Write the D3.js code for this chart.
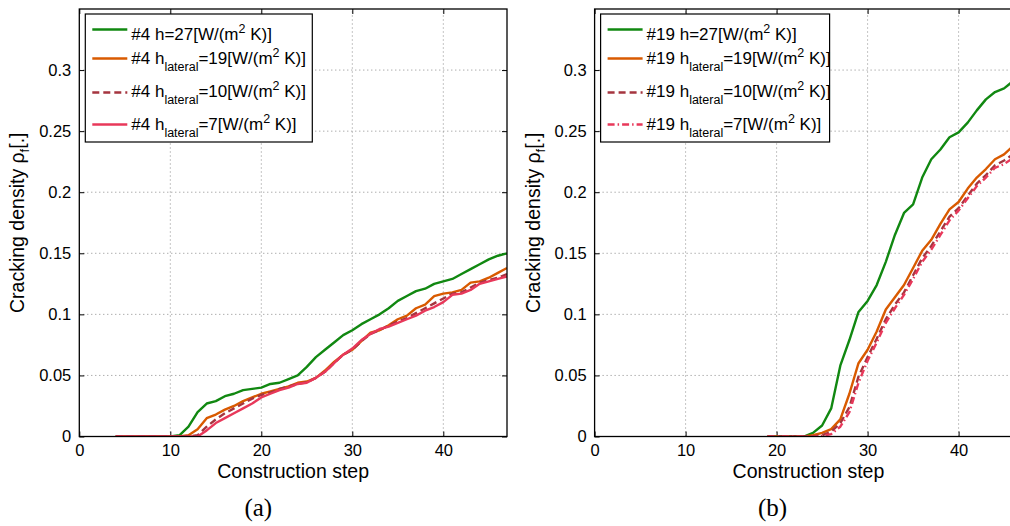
<!DOCTYPE html>
<html><head><meta charset="utf-8">
<script src="https://cdn.jsdelivr.net/npm/d3@7"></script>
<style>body{margin:0;background:#fff}svg{display:block}</style>
</head><body>
<script>
// ---------- data ----------
const stepsA = [4,5,6,7,8,9,10,11,12,13,14,15,16,17,18,19,20,21,22,23,24,25,26,27,28,29,30,31,32,33,34,35,36,37,38,39,40,41,42,43,44,45,46,47];
const a_h27 = [0,0,0,0,0,0,0,0.001,0.008,0.020,0.027,0.029,0.033,0.035,0.038,0.039,0.040,0.043,0.044,0.047,0.050,0.057,0.065,0.071,0.077,0.083,0.087,0.092,0.096,0.100,0.105,0.111,0.115,0.119,0.121,0.125,0.127,0.129,0.133,0.137,0.141,0.145,0.148,0.150];
const a_h19 = [0,0,0,0,0,0,0,0,0.001,0.006,0.015,0.018,0.022,0.025,0.029,0.032,0.035,0.037,0.039,0.041,0.044,0.045,0.048,0.054,0.061,0.067,0.071,0.078,0.085,0.087,0.091,0.096,0.099,0.105,0.108,0.115,0.117,0.118,0.120,0.126,0.127,0.130,0.134,0.138];
const a_h10 = [0,0,0,0,0,0,0,0,0,0.001,0.008,0.014,0.019,0.023,0.027,0.031,0.034,0.036,0.039,0.041,0.043,0.0445,0.048,0.053,0.060,0.067,0.071,0.078,0.084,0.087,0.091,0.094,0.097,0.101,0.105,0.109,0.113,0.117,0.118,0.122,0.126,0.128,0.130,0.133];
const a_h7  = [0,0,0,0,0,0,0,0,0,0,0.005,0.011,0.015,0.019,0.023,0.027,0.032,0.035,0.038,0.040,0.043,0.044,0.048,0.053,0.060,0.067,0.072,0.079,0.084,0.088,0.090,0.093,0.096,0.099,0.103,0.106,0.110,0.116,0.117,0.120,0.125,0.127,0.129,0.131];

const stepsB = [19,20,21,22,23,24,25,26,27,28,29,30,31,32,33,34,35,36,37,38,39,40,41,42,43,44,45,46,47];
const b_h27 = [0,0,0,0,0,0.003,0.009,0.023,0.058,0.079,0.102,0.111,0.124,0.143,0.165,0.183,0.190,0.212,0.227,0.235,0.245,0.249,0.257,0.267,0.276,0.282,0.285,0.291,0.297];
const b_h19 = [0,0,0,0,0,0.001,0.003,0.006,0.014,0.035,0.060,0.071,0.086,0.104,0.114,0.124,0.138,0.152,0.161,0.174,0.186,0.192,0.203,0.212,0.219,0.227,0.231,0.238,0.244];
const b_h10 = [0,0,0,0,0,0,0.001,0.004,0.011,0.024,0.049,0.065,0.080,0.096,0.108,0.118,0.132,0.146,0.156,0.168,0.180,0.187,0.197,0.207,0.214,0.222,0.226,0.231,0.237];
const b_h7  = [0,0,0,0,0,0,0.0005,0.002,0.008,0.020,0.044,0.062,0.077,0.093,0.105,0.116,0.129,0.143,0.153,0.165,0.177,0.185,0.195,0.205,0.212,0.220,0.223,0.228,0.234];

const xTicks = [0,10,20,30,40];
const yTicks = [0,0.05,0.1,0.15,0.2,0.25,0.3];
const yTickLabels = ["0","0.05","0.1","0.15","0.2","0.25","0.3"];
const hValues = ["27","19","10","7"];
const xLabel = "Construction step";
const captions = ["(a)","(b)"];

// ---------- styles ----------
const colors = ["#118811","#d95a00","#a5353f","#e8385a"];
const W = 1010, H = 526;
const svg = d3.select("body").append("svg").attr("width",W).attr("height",H);
const SANS = "'Liberation Sans', Arial, Helvetica, sans-serif";

function panel(idx, x0, steps, series, prefix, dashes) {
  const x = d3.scaleLinear().domain([0,47]).range([x0, x0+427.7]);
  const y = d3.scaleLinear().domain([0,0.35]).range([436.5, 9]);
  const g = svg.append("g");
  const clipId = "clip"+idx;
  svg.append("defs").append("clipPath").attr("id",clipId)
    .append("rect").attr("x",x(0)).attr("y",y(0.35)).attr("width",x(47)-x(0)).attr("height",y(0)-y(0.35));

  // grid
  const grid = g.append("g").attr("stroke","#8a8a8a").attr("stroke-width",1).attr("stroke-dasharray","1,3");
  xTicks.filter(t=>t>0).forEach(t=>grid.append("line").attr("x1",x(t)).attr("x2",x(t)).attr("y1",y(0)).attr("y2",y(0.35)));
  yTicks.filter(t=>t>0).forEach(t=>grid.append("line").attr("x1",x(0)).attr("x2",x(47)).attr("y1",y(t)).attr("y2",y(t)));

  // axes via d3
  const xAxis = d3.axisBottom(x).tickValues(xTicks).tickSize(-5).tickPadding(8).tickFormat(d3.format("d"));
  const yAxis = d3.axisLeft(y).tickValues(yTicks).tickSize(-5).tickPadding(8).tickFormat((d,i)=>yTickLabels[i]);
  const gx = g.append("g").attr("transform",`translate(0,${y(0)})`).call(xAxis);
  const gy = g.append("g").attr("transform",`translate(${x(0)},0)`).call(yAxis);
  const gxt = g.append("g").attr("transform",`translate(0,${y(0.35)})`).call(d3.axisTop(x).tickValues(xTicks).tickSize(-5).tickFormat(""));
  const gyr = g.append("g").attr("transform",`translate(${x(47)},0)`).call(d3.axisRight(y).tickValues(yTicks).tickSize(-5).tickFormat(""));
  [gx,gy,gxt,gyr].forEach(a=>{
    a.select(".domain").remove();
    a.selectAll(".tick line").attr("stroke","#000").attr("stroke-width",1);
    a.selectAll("text").attr("font-family",SANS).attr("font-size",16.5).attr("fill","#000");
  });
  gx.selectAll("text").attr("dy","0.71em");

  // lines
  const lg = g.append("g").attr("clip-path",`url(#${clipId})`);
  series.forEach((vals,i)=>{
    const line = d3.line().x((d,j)=>x(steps[j])).y(d=>y(d));
    lg.append("path").datum(vals).attr("d",line).attr("fill","none")
      .attr("stroke",colors[i]).attr("stroke-width",2.4).attr("stroke-linejoin","round")
      .attr("stroke-dasharray",dashes[i]);
  });

  // frame
  g.append("rect").attr("x",x(0)).attr("y",y(0.35)).attr("width",x(47)-x(0)).attr("height",y(0)-y(0.35))
    .attr("fill","none").attr("stroke","#000").attr("stroke-width",1.3);

  // axis labels
  g.append("text").attr("x",(x(0)+x(47))/2).attr("y",477.5).attr("text-anchor","middle")
    .attr("font-family",SANS).attr("font-size",19.5).text(xLabel);
  const yl = g.append("text").attr("transform",`translate(${x0-55},${(y(0)+y(0.35))/2}) rotate(-90)`)
    .attr("text-anchor","middle").attr("font-family",SANS).attr("font-size",19.5);
  yl.append("tspan").text("Cracking density ρ");
  yl.append("tspan").attr("font-size",13).attr("dy",5).text("f");
  yl.append("tspan").attr("dy",-5).text("[.]");

  // caption
  g.append("text").attr("x",x0+179+(idx===0?0:-1)).attr("y",516).attr("text-anchor","middle")
    .attr("font-family","'Liberation Serif','Times New Roman',serif").attr("font-size",25)
    .text(captions[idx]);

  // legend
  const lx = x0+6, ly = 14;
  const lw = idx===0 ? 227 : 229;
  const leg = g.append("g");
  leg.append("rect").attr("x",lx).attr("y",ly).attr("width",lw).attr("height",128)
    .attr("fill","#fff").attr("stroke","#000").attr("stroke-width",1.2);
  const lineYs = [29.5,58.5,92.5,124.5];
  const baseYs = [40,63.5,97,129.5];
  hValues.forEach((h,i)=>{
    leg.append("line").attr("x1",lx+7).attr("x2",lx+42).attr("y1",lineYs[i]).attr("y2",lineYs[i])
      .attr("stroke",colors[i]).attr("stroke-width",2.4).attr("stroke-dasharray",dashes[i]);
    const t = leg.append("text").attr("x",lx+46).attr("y",baseYs[i]).attr("font-family",SANS).attr("font-size",17);
    if (i===0) {
      t.append("tspan").text(prefix+" h=27[W/(m");
    } else {
      t.append("tspan").text(prefix+" h");
      t.append("tspan").attr("font-size",12.5).attr("dy",7).text("lateral");
      t.append("tspan").attr("dy",-7).text("="+h+"[W/(m");
    }
    t.append("tspan").attr("font-size",12.5).attr("dy",-7).text("2");
    t.append("tspan").attr("dy",7).text(" K)]");
  });
}

panel(0, 79.3, stepsA, [a_h27,a_h19,a_h10,a_h7], "#4", [null,null,"7,4",null]);
panel(1, 594.6, stepsB, [b_h27,b_h19,b_h10,b_h7], "#19", [null,null,"7,4","7,3,1.5,3"]);
</script>
</body></html>
